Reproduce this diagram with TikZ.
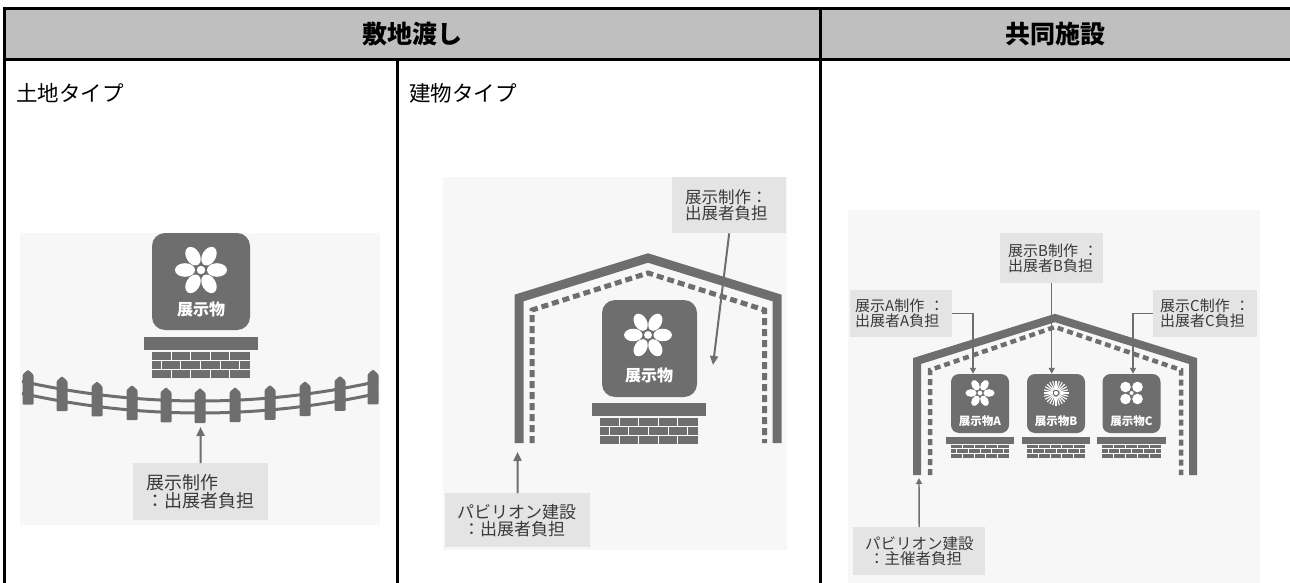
\documentclass[tikz,border=0pt]{standalone}
\usepackage{fontspec}
\setmainfont{Noto Sans CJK JP}
\usetikzlibrary{arrows.meta}

\definecolor{ink}{HTML}{6E6E6E}
\definecolor{hdr}{HTML}{BFBFBF}
\definecolor{tag}{HTML}{E4E4E4}
\definecolor{panel}{HTML}{F7F7F7}
\definecolor{txt}{HTML}{3A3A3A}

\newcommand{\fs}[1]{\fontsize{#1}{#1}\selectfont}

\tikzset{
  rule/.style={line width=3, black},
  title/.style={anchor=west, inner sep=0, font=\fs{21.5}},
  headtext/.style={inner sep=0, font=\bfseries\fs{25}},
  tagbox/.style={fill=tag, text=txt, align=left, anchor=north west, inner ysep=0},
  exbox/.style={fill=ink, rounded corners=#1, inner sep=0},
  extext/.style={text=white, inner sep=0},
  wall/.style={ink, line width=#1, miter limit=10},
  dashwall/.style={ink, line width=#1, dash pattern=on 7pt off 4pt},
  bigarrow/.style={ink, line width=2, -{Triangle[length=9pt,width=8pt]}},
  smallarrow/.style={ink, line width=1.4, -{Triangle[length=6pt,width=6pt]}},
  flower/.pic={
    \foreach \a in {0,60,...,300}
      \fill[white, rotate=\a] (16,0) ellipse [x radius=10, y radius=6.8];
    \fill[white] (0,0) circle (4.2);
  },
  sunburst/.pic={
    \foreach \a in {0,15,...,345}
      \draw[white, line width=1.1, rotate=\a] (3.5,0) -- (12.5,0);
    \fill[white] (0,0) circle (2.2);
  },
  clover/.pic={
    \foreach \dx/\dy in {-6/-6, 6/-6, -6/6, 6/6}
      \fill[white] (\dx,\dy) circle (5.3);
    \fill[white] (0,0) circle (2);
  },
  pics/pedestal/.style={code={
    \fill[ink] (-57,0) rectangle (57,13);
    \fill[ink] (-49,15) rectangle (49,41);
    \draw[white, line width=#1] (-49,23.67) -- (49,23.67) (-49,32.33) -- (49,32.33);
    \foreach \bx in {-29.4,-9.8,9.8,29.4} {
      \draw[white, line width=#1] (\bx,15) -- (\bx,23.67);
      \draw[white, line width=#1] (\bx,32.33) -- (\bx,41);
    }
    \foreach \bx in {-39.2,-19.6,0,19.6,39.2}
      \draw[white, line width=#1] (\bx,23.67) -- (\bx,32.33);
  }},
  pics/pedestal/.default=1.1
}

\begin{document}
\begin{tikzpicture}[x=1pt, y=-1pt]
\useasboundingbox (0,0) rectangle (1290,583);
\fill[white] (0,0) rectangle (1290,583);

% ---------- table ----------
\fill[hdr] (4,9) rectangle (1290,60);
\node[headtext] (hA) at (412,34) {敷地渡し};
\node[headtext] (hB) at (1055,34) {共同施設};
\node[title] (tA) at (16,93) {土地タイプ};
\node[title] (tB) at (409,93) {建物タイプ};

% ---------- panel backgrounds ----------
\fill[panel] (20,233) rectangle (380,525);
\fill[panel] (443,177) rectangle (787,550);
\fill[panel] (848,210) rectangle (1260,583);

% ---------- land type: exhibit on a plinth behind a fence ----------
\node[exbox=13, minimum width=98, minimum height=97] (exL) at (201,281.5) {};
\pic at (201,270) {flower};
\node[extext, font=\bfseries\fs{16}] (exLt) at (201,309) {展示物};
\pic at (200.5,337) {pedestal};

% fence rails and posts follow a shallow sag: dy = 0.062*((x-200)/10)^2
\foreach \r in {401,413}
  \draw[ink, line width=3] plot[domain=22:378, samples=60, smooth]
    (\x, {\r-0.062*((\x-200)/10)^2});
\foreach \p in {28,62,97,132,166,200,235,270,305,340,373} {
  \pgfmathsetmacro\o{0.062*((\p-200)/10)^2}
  \fill[ink, rounded corners=1]
    (\p-5.5,423-\o) -- (\p-5.5,393-\o) -- (\p,388-\o) -- (\p+5.5,393-\o) -- (\p+5.5,423-\o) -- cycle;
}

\node[tagbox, inner xsep=13, text width=109, minimum height=57, font=\fs{18}]
  (labL) at (133,463) {\baselineskip=22pt 展示制作\\：出展者負担};
\coordinate (tipL) at (200.5,427);
\draw[bigarrow] (labL.north) -- (tipL);

% ---------- building type ----------
\draw[wall=9] (519,443) -- (519,298) -- (648,258) -- (777,298) -- (777,443);
\draw[dashwall=5] (532,443) -- (532,310) -- (648,273) -- (764.5,310) -- (764.5,443);

\node[exbox=13, minimum width=95, minimum height=97] (exM) at (649.5,348.5) {};
\pic[scale=0.92] at (648,335) {flower};
\node[extext, font=\bfseries\fs{16}] (exMt) at (649,375) {展示物};
\pic at (648.5,403) {pedestal};

\node[tagbox, inner xsep=13, text width=88, minimum height=56, font=\fs{16.5}]
  (labM1) at (672,177) {\baselineskip=22pt 展示制作：\\出展者負担};
\coordinate (tipM1) at (713,365);
\draw[bigarrow] (labM1.south) -- (tipM1);

\node[tagbox, inner xsep=12, text width=121, minimum height=54, font=\fs{17}]
  (labM2) at (445,493) {\baselineskip=22pt パビリオン建設\\\hspace*{6pt}：出展者負担};
\coordinate (tipM2) at (517.5,452);
\draw[bigarrow] (labM2.north) -- (tipM2);

% ---------- shared facility ----------
\draw[wall=8] (917,475) -- (917,361) -- (1055,318) -- (1193,361) -- (1193,475);
\draw[ink, line width=4.5, dash pattern=on 6pt off 4pt]
  (930,475) -- (930,370) -- (1055,327) -- (1181,370) -- (1181,475);

\node[exbox=8, minimum width=58, minimum height=59] (exA) at (980,403.5) {};
\node[exbox=8, minimum width=58, minimum height=59] (exB) at (1056,403.5) {};
\node[exbox=8, minimum width=58, minimum height=59] (exC) at (1131.5,403.5) {};
\pic[scale=0.56] at (980,393) {flower};
\pic at (1056,393) {sunburst};
\pic at (1131.5,393) {clover};
\node[extext, font=\bfseries\fs{11.5}] (exAt) at (980,421) {展示物A};
\node[extext, font=\bfseries\fs{11.5}] (exBt) at (1056,421) {展示物B};
\node[extext, font=\bfseries\fs{11.5}] (exCt) at (1131.5,421) {展示物C};
\pic[xscale=0.6, yscale=0.5] at (980,437) {pedestal=0.8};
\pic[xscale=0.6, yscale=0.5] at (1056,437) {pedestal=0.8};
\pic[xscale=0.6, yscale=0.5] at (1131.5,437) {pedestal=0.8};

\node[tagbox, inner xsep=5, text width=92, minimum height=47, font=\fs{15}]
  (labA) at (850,290) {\baselineskip=19pt 展示A制作~：\\出展者A負担};
\node[tagbox, inner xsep=8, text width=87, minimum height=50, font=\fs{15}]
  (labB) at (1000,233) {\baselineskip=19pt 展示B制作~：\\出展者B負担};
\node[tagbox, inner xsep=7, text width=90, minimum height=47, font=\fs{15}]
  (labC) at (1153,290) {\baselineskip=19pt 展示C制作~：\\出展者C負担};
\draw[smallarrow] (labA.east) -| ([xshift=-7]exA.north);
\draw[smallarrow] (labB.south) -- (labB.south |- exB.north);
\draw[smallarrow] (labC.west) -| ([xshift=1.5]exC.north);

\node[tagbox, inner xsep=12, text width=108, minimum height=48, font=\fs{15.5}]
  (labR) at (853,527) {\baselineskip=22pt パビリオン建設\\\hspace*{4pt}：主催者負担};
\coordinate (tipR) at (919,478);
\draw[smallarrow] (labR.north) -- (tipR);

% ---------- table rules ----------
\draw[rule] (4,583) -- (4,9) -- (1290,9);
\draw[rule] (4,60) -- (1290,60);
\draw[rule] (820,9) -- (820,583);
\draw[rule] (397,60) -- (397,583);
\end{tikzpicture}
\end{document}
